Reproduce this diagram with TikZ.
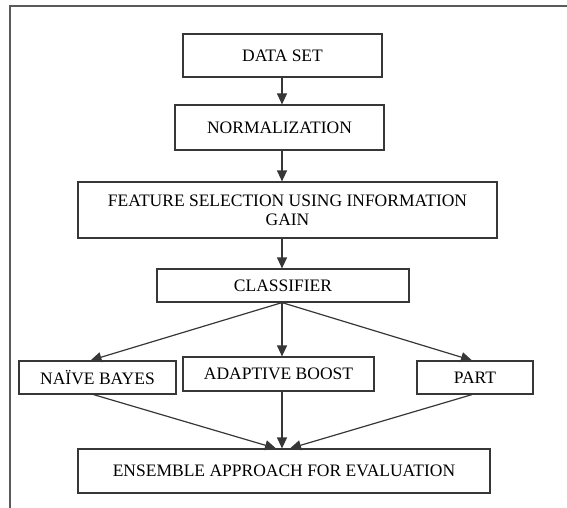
\documentclass[tikz,border=0pt]{standalone}
\usepackage{fontspec}
\setmainfont{Liberation Serif}
\usetikzlibrary{arrows.meta}
\definecolor{boxline}{RGB}{55, 55, 55}
\definecolor{frameline}{RGB}{90, 90, 90}

\tikzset{
	stage/.style={draw=boxline, line width=1.2pt, inner sep=2pt, font=\fontsize{17.5}{19}\selectfont, align=center},
	flow/.style={draw=boxline, line width=1.2pt, -{Triangle[length=11pt, width=10pt]}}
}

\begin{document}
\begin{tikzpicture}[x=1pt, y=-1pt]
			\useasboundingbox (0, 0) rectangle (567, 508);
			\draw [frameline, line width=1.5pt] (10, 508) -- (10, 6) -- (567, 6);
			\node [stage, minimum width=199pt, minimum height=43pt] (dataset) at (282.5, 55.5) {DATA SET};
			\node [stage, minimum width=209pt, minimum height=45pt] (norm) at (279.5, 127.5) {NORMALIZATION};
			\node [stage, minimum width=419pt, minimum height=56pt] (infogain) at (287.5, 210) {FEATURE SELECTION USING INFORMATION\\GAIN};
			\node [stage, minimum width=252pt, minimum height=33pt] (classifier) at (283, 285.5) {CLASSIFIER};
			\node [stage, minimum width=157pt, minimum height=33pt] (naive) at (97.5, 377.5) {NAÏVE BAYES};
			\node [stage, minimum width=191pt, minimum height=34pt] (adaboost) at (278.5, 374) {ADAPTIVE BOOST};
			\node [stage, minimum width=116pt, minimum height=33pt] (part) at (475, 377.5) {PART};
			\node [stage, minimum width=412pt, minimum height=44pt] (ensemble) at (284, 471) {ENSEMBLE APPROACH FOR EVALUATION};
			\draw [flow] ([xshift=-0.5pt]dataset.south) -- ([xshift=2.5pt]norm.north);
			\draw [flow] ([xshift=2.5pt]norm.south) -- ([xshift=-5.5pt]infogain.north);
			\draw [flow] ([xshift=-5.5pt]infogain.south) -- ([xshift=-1pt]classifier.north);
			\draw [flow] ([xshift=-1pt]classifier.south) -- ([xshift=-7pt]naive.north);
			\draw [flow] ([xshift=-1pt]classifier.south) -- ([xshift=3.5pt]adaboost.north);
			\draw [flow] ([xshift=-1pt]classifier.south) -- ([xshift=-3pt]part.north);
			\draw [flow] ([xshift=-4pt]naive.south) -- ([xshift=-8pt]ensemble.north);
			\draw [flow] ([xshift=3.5pt]adaboost.south) -- ([xshift=-2pt]ensemble.north);
			\draw [flow] ([xshift=-3pt]part.south) -- ([xshift=6pt]ensemble.north);
		\end{tikzpicture}
\end{document}
